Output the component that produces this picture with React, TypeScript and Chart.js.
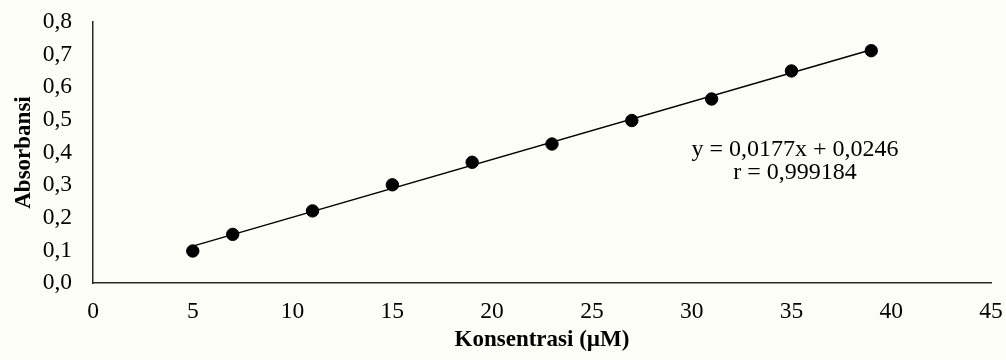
import React, { useEffect, useRef } from 'react';
import { Chart, registerables } from 'chart.js';

Chart.register(...registerables);

// Data
const concentrations = [5, 7, 11, 15, 19, 23, 27, 31, 35, 39];
const absorbances = [0.098, 0.149, 0.221, 0.301, 0.370, 0.426, 0.498, 0.564, 0.650, 0.712];
// Linear trendline endpoints (y = 0,0177x + 0,0246)
const trendX = [5, 39];
const trendY = [0.113, 0.715];
const equationLines = ['y = 0,0177x + 0,0246', 'r = 0,999184'];
const equationAnchor = [35.18, 0.389];

const xTitle = 'Konsentrasi (µM)';
const yTitle = 'Absorbansi';

const BG = '#fdfdf7';
const FONT = '"Liberation Serif", "Times New Roman", serif';

export default function App() {
  const ref = useRef<HTMLCanvasElement>(null);

  useEffect(() => {
    document.body.style.margin = '0';
    document.body.style.background = BG;
    const canvas = ref.current!;

    const eqPlugin = {
      id: 'eqLabel',
      afterDatasetsDraw(chart: any) {
        const { ctx, scales } = chart;
        const cx = scales.x.getPixelForValue(equationAnchor[0]);
        const cy = scales.y.getPixelForValue(equationAnchor[1]);
        ctx.save();
        ctx.font = `24px ${FONT}`;
        ctx.fillStyle = '#000';
        ctx.textAlign = 'center';
        ctx.textBaseline = 'alphabetic';
        equationLines.forEach((t, i) => ctx.fillText(t, cx, cy + i * 23));
        ctx.restore();
      },
    };

    const chart = new Chart(canvas, {
      type: 'scatter',
      data: {
        datasets: [
          {
            label: 'Absorbansi',
            data: concentrations.map((c, i) => ({ x: c, y: absorbances[i] })),
            backgroundColor: '#000',
            borderColor: '#000',
            pointRadius: 6.2,
            pointHoverRadius: 6.2,
            showLine: false,
            order: 0,
          },
          {
            label: 'Linear',
            data: trendX.map((c, i) => ({ x: c, y: trendY[i] })),
            borderColor: '#000',
            backgroundColor: '#000',
            borderWidth: 1.5,
            pointRadius: 0,
            showLine: true,
            fill: false,
            order: 1,
          },
        ],
      },
      options: {
        responsive: false,
        animation: false,
        events: [],
        layout: { padding: { top: 22, right: 15, left: 0, bottom: 0 } },
        plugins: {
          legend: { display: false },
          tooltip: { enabled: false },
        },
        scales: {
          x: {
            type: 'linear',
            min: 0,
            max: 45,
            grid: { display: false, drawTicks: false },
            border: { display: true, color: '#262626', width: 1.5 },
            ticks: {
              stepSize: 5,
              autoSkip: false,
              maxRotation: 0,
              padding: 15,
              color: '#000',
              font: { family: FONT, size: 23.5 },
            },
            title: {
              display: true,
              text: xTitle,
              color: '#000',
              font: { family: FONT, size: 23, weight: 'bold' },
              padding: { top: 0, bottom: 6 },
            },
            afterFit: (s: any) => {
              s.height = 77;
              s.paddingLeft = 0;
              s.paddingRight = 0;
            },
          },
          y: {
            type: 'linear',
            min: 0,
            max: 0.8,
            grid: { display: false, drawTicks: false },
            border: { display: true, color: '#262626', width: 1.5 },
            ticks: {
              stepSize: 0.1,
              autoSkip: false,
              padding: 21,
              color: '#000',
              font: { family: FONT, size: 23.5 },
              callback: (v: any) => Number(v).toFixed(1).replace('.', ','),
            },
            title: {
              display: true,
              text: yTitle,
              color: '#000',
              font: { family: FONT, size: 23, weight: 'bold' },
              padding: { top: 10, bottom: 0 },
            },
            afterFit: (s: any) => {
              s.width = 93;
              s.paddingTop = 0;
              s.paddingBottom = 0;
            },
          },
        },
      },
      plugins: [eqPlugin],
    });

    return () => chart.destroy();
  }, []);

  return (
    <div style={{ width: 1006, height: 360, background: BG }}>
      <canvas ref={ref} width={1006} height={360} style={{ display: 'block' }} />
    </div>
  );
}
